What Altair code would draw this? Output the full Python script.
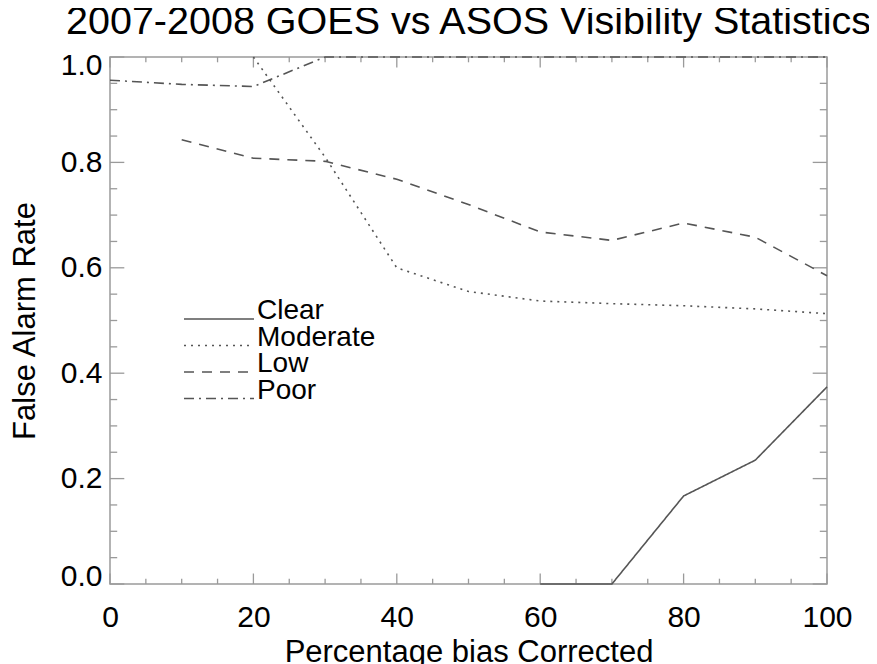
import altair as alt
import pandas as pd

# ---- data ----
series = ["Clear", "Moderate", "Low", "Poor"]

clear_x = [60, 70, 80, 90, 100]
clear_y = [0.0, 0.0, 0.167, 0.235, 0.374]

moderate_x = [20, 30, 40, 50, 60, 70, 80, 90, 100]
moderate_y = [1.0, 0.81, 0.60, 0.555, 0.537, 0.532, 0.528, 0.522, 0.513]

low_x = [10, 20, 30, 40, 50, 60, 70, 80, 90, 100]
low_y = [0.843, 0.808, 0.802, 0.768, 0.72, 0.668, 0.652, 0.685, 0.658, 0.585]

poor_x = [0, 10, 20, 30, 40, 50, 60, 70, 80, 90, 100]
poor_y = [0.956, 0.948, 0.944, 1.0, 1.0, 1.0, 1.0, 1.0, 1.0, 1.0, 1.0]

x_major = [0, 20, 40, 60, 80, 100]
x_minor = [5, 10, 15, 25, 30, 35, 45, 50, 55, 65, 70, 75, 85, 90, 95]
y_major = [0.0, 0.2, 0.4, 0.6, 0.8, 1.0]
y_minor = [0.05, 0.1, 0.15, 0.25, 0.3, 0.35, 0.45, 0.5, 0.55,
           0.65, 0.7, 0.75, 0.85, 0.9, 0.95]

rows = []
for name, xs_, ys_ in [("Clear", clear_x, clear_y), ("Moderate", moderate_x, moderate_y),
                       ("Low", low_x, low_y), ("Poor", poor_x, poor_y)]:
    for a, b in zip(xs_, ys_):
        rows.append({"series": name, "x": a, "y": b})
df = pd.DataFrame(rows)

W, H = 717, 527
FONT = "Liberation Sans"
LINE = "#555555"
FRAME = "#9a9a9a"

xs = alt.Scale(domain=[0, 100], nice=False, zero=False)
ys = alt.Scale(domain=[0, 1], nice=False, zero=False)

lines = alt.Chart(df).mark_line(strokeWidth=1.6, color=LINE).encode(
    x=alt.X("x:Q", scale=xs, title="Percentage bias Corrected",
            axis=alt.Axis(values=x_major, ticks=False, domain=False, grid=False,
                          labelPadding=18, titlePadding=5, format="d",
                          labelFlush=False)),
    y=alt.Y("y:Q", scale=ys, title="False Alarm Rate",
            axis=alt.Axis(values=y_major, ticks=False, domain=False, grid=False,
                          labelPadding=8, titlePadding=19, format=".1f",
                          labelFlush=True, labelFlushOffset=7)),
    strokeDash=alt.StrokeDash(
        "series:N",
        scale=alt.Scale(domain=series,
                        range=[[1, 0], [2, 5], [10, 8], [10, 5, 2, 5]]),
        sort=series,
        legend=alt.Legend(title=None, orient="none", legendX=73, legendY=249,
                          symbolType="stroke", symbolSize=4900, symbolStrokeWidth=1.6,
                          symbolStrokeColor=LINE, clipHeight=26, rowPadding=-8.5,
                          labelOffset=2, labelFontSize=28, labelFont=FONT,
                          labelColor="black", labelBaseline="alphabetic", padding=0),
    ),
    detail="series:N",
)

def xticks(vals, length, top):
    d = pd.DataFrame({"v": vals})
    if top:
        enc = dict(y=alt.value(0), y2=alt.value(length))
    else:
        enc = dict(y=alt.value(H), y2=alt.value(H - length))
    return alt.Chart(d).mark_rule(color=FRAME, strokeWidth=1.3).encode(
        x=alt.X("v:Q", scale=xs), **enc)

def yticks(vals, length, right):
    d = pd.DataFrame({"v": vals})
    if right:
        enc = dict(x=alt.value(W), x2=alt.value(W - length))
    else:
        enc = dict(x=alt.value(0), x2=alt.value(length))
    return alt.Chart(d).mark_rule(color=FRAME, strokeWidth=1.3).encode(
        y=alt.Y("v:Q", scale=ys), **enc)

tick_layers = [
    xticks(x_major, 10.5, False), xticks(x_minor, 5.3, False),
    xticks(x_major, 10.5, True), xticks(x_minor, 5.3, True),
    yticks(y_major, 14.3, False), yticks(y_minor, 7.2, False),
    yticks(y_major, 14.3, True), yticks(y_minor, 7.2, True),
]

chart = alt.layer(*tick_layers, lines).properties(
    width=W, height=H,
    title=alt.Title("2007-2008 GOES vs ASOS Visibility Statistics",
                    font=FONT, fontSize=39.5, fontWeight="normal", color="black",
                    anchor="middle", offset=8),
    autosize=alt.AutoSizeParams(type="none"),
    padding={"left": 102, "top": 49, "right": 42, "bottom": 80},
).configure_view(
    stroke=FRAME, strokeWidth=1.5
).configure_axis(
    labelFont=FONT, titleFont=FONT, labelFontSize=30, titleFontSize=31,
    labelColor="black", titleColor="black", titleFontWeight="normal"
)

chart.save("out.html", embed_options={"renderer": "svg", "actions": False})
